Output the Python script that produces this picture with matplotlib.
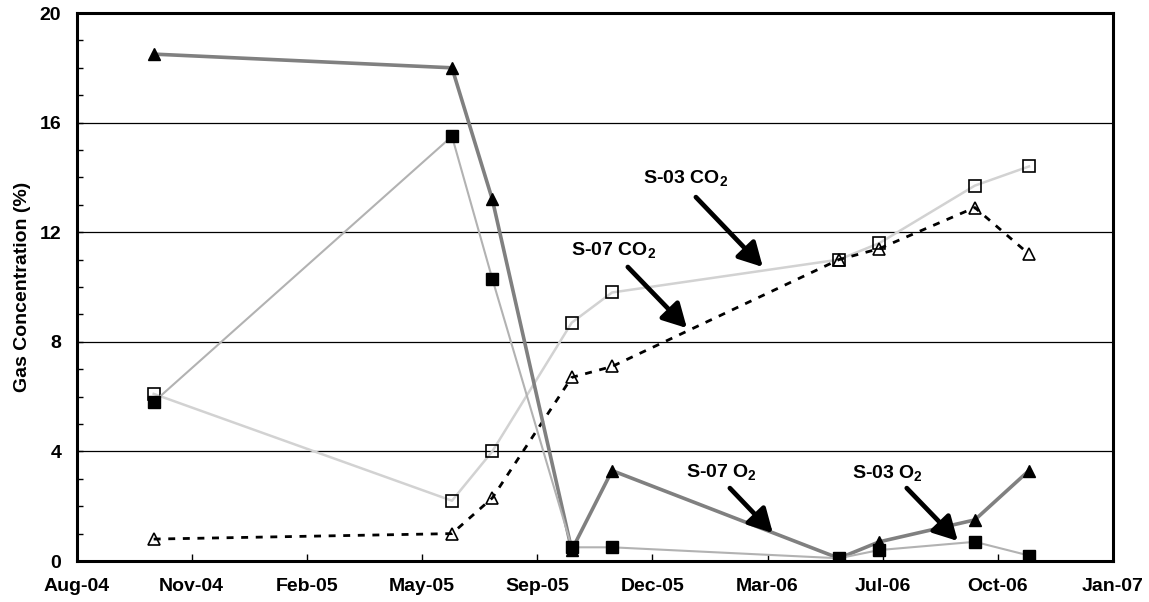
import numpy as np
import matplotlib
matplotlib.use("Agg")
import matplotlib.pyplot as plt
import matplotlib.dates as mdates
from matplotlib.ticker import MultipleLocator, FixedLocator

plt.rcParams['font.family'] = ['Liberation Sans', 'DejaVu Sans']
plt.rcParams['font.weight'] = 'bold'
plt.rcParams['mathtext.fontset'] = 'custom'
plt.rcParams['mathtext.rm'] = 'Liberation Sans:bold'
plt.rcParams['mathtext.bf'] = 'Liberation Sans:bold'
plt.rcParams['mathtext.it'] = 'Liberation Sans:bold'
plt.rcParams['mathtext.default'] = 'rm'
plt.rcParams['lines.scale_dashes'] = False

# ---- data ----
sample_dates = ["2004-10-07", "2005-06-23", "2005-07-28", "2005-10-05", "2005-11-09",
                "2006-05-25", "2006-06-29", "2006-09-20", "2006-11-06"]
s07_o2 = [18.5, 18.0, 13.2, 0.4, 3.3, 0.1, 0.7, 1.5, 3.3]
s03_o2 = [5.8, 15.5, 10.3, 0.5, 0.5, 0.1, 0.4, 0.7, 0.2]
s03_co2 = [6.1, 2.2, 4.0, 8.7, 9.8, 11.0, 11.6, 13.7, 14.4]
s07_co2 = [0.8, 1.0, 2.3, 6.7, 7.1, 11.0, 11.4, 12.9, 11.2]

axis_start = "2004-08-01"
tick_step_days = 100
n_ticks = 10
y_ticks = [0, 4, 8, 12, 16, 20]

x = mdates.datestr2num(sample_dates)
x0 = mdates.datestr2num(axis_start)
xticks = x0 + tick_step_days * np.arange(n_ticks)

fig = plt.figure(figsize=(11.49, 6.02), dpi=100)
ax = fig.add_axes([0.0666, 0.0681, 0.9021, 0.9103])

# lines
ax.plot(x, s07_o2, color='#808080', lw=2.6, marker='^', ms=9,
        mfc='black', mec='black', zorder=4)
ax.plot(x, s03_o2, color='#b2b2b2', lw=1.5, marker='s', ms=9,
        mfc='black', mec='black', zorder=5)
ax.plot(x, s03_co2, color='#d2d2d2', lw=1.8, marker='s', ms=9,
        mfc='none', mec='black', mew=1.2, zorder=3)
ax.plot(x, s07_co2, color='black', lw=2.0, dashes=(5, 5.5), marker='^', ms=8.5,
        mfc='none', mec='black', mew=1.2, zorder=3)

ax.set_xlim(xticks[0], xticks[-1])
ax.set_ylim(0, 20)
ax.xaxis.set_major_locator(FixedLocator(xticks))
ax.xaxis.set_major_formatter(mdates.DateFormatter('%b-%y'))
ax.yaxis.set_major_locator(FixedLocator(y_ticks))
ax.yaxis.set_minor_locator(MultipleLocator(1))

ax.grid(axis='y', which='major', color='black', lw=0.9)
ax.set_axisbelow(True)

for s in ax.spines.values():
    s.set_linewidth(2.2)
    s.set_zorder(6)

ax.tick_params(axis='x', which='major', direction='in', length=5, width=1,
               labelsize=14, pad=12)
ax.tick_params(axis='y', which='major', direction='in', length=4, width=1,
               labelsize=14, pad=11)
ax.tick_params(axis='y', which='minor', direction='in', length=4, width=1)
for lbl in ax.get_xticklabels() + ax.get_yticklabels():
    lbl.set_fontweight('bold')

ax.set_ylabel('Gas Concentration (%)', fontsize=14, fontweight='bold')
ax.yaxis.set_label_coords(-0.044, 0.5)

def dday(d):
    return x0 + d

arrow_kw = dict(arrowstyle='-|>,head_length=0.55,head_width=0.3', lw=3.4,
                mutation_scale=26, color='black', shrinkA=0, shrinkB=0)

labels = [
    ("S-03 CO$_2$", 528.6, 13.98, 537.8, 13.28, 595.9, 10.73),
    ("S-07 CO$_2$", 466.1, 11.35, 478.7, 10.73, 530.0, 8.5),
    ("S-07 O$_2$", 559.9, 3.25, 567.3, 2.66, 604.6, 1.02),
    ("S-03 O$_2$", 704.0, 3.21, 720.9, 2.66, 765.2, 0.73),
]
for txt, tx, ty, ax0, ay0, ax1, ay1 in labels:
    ax.text(dday(tx), ty, txt, fontsize=14, fontweight='bold',
            ha='center', va='center', zorder=7)
    ax.annotate('', xy=(dday(ax1), ay1), xytext=(dday(ax0), ay0),
                arrowprops=arrow_kw, zorder=7)

fig.savefig('out.png', dpi=100)
